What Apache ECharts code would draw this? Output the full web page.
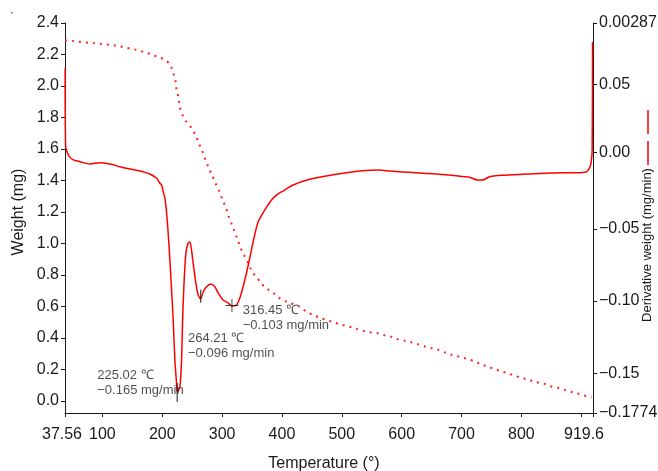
<!DOCTYPE html>
<html>
<head>
<meta charset="utf-8">
<script src="https://cdn.jsdelivr.net/npm/echarts@6/dist/echarts.min.js"></script>
<style>
html,body{margin:0;padding:0;background:#fff;}
#chart{width:658px;height:471px;}
</style>
</head>
<body>
<div id="chart"></div>
<script>
// Derivative weight curve (solid, right axis)
const dtgTemp = [37.8,38.6,41.7,44.7,51.4,62.6,79.3,96,112.6,129.3,146,162.7,179.4,190.6,196.1,198.9,201.6,204.4,207.3,209.9,212.8,215.6,218.3,221.1,223.9,225.02,229.5,232.3,234,236.1,239.5,243.3,246.1,249,251.6,256.2,260,264.21,268.3,274,281.2,287.9,293.4,301.7,310,316.45,324.1,329.6,335.1,340.7,346.3,351.8,360.1,371.3,382.5,393.5,401.8,418.5,446.4,474.2,502,534.8,563.2,579.9,601.6,634.9,663.3,691.2,713.4,726.7,735,746.7,768.4,801.8,841.4,869,891.4,908.1,913.6,916.4,918.2,918.8];
const dtgRate = [0.061,0.0072,0.0024,-0.0001,-0.0024,-0.0036,-0.0052,-0.0043,-0.0052,-0.0071,-0.0087,-0.0100,-0.0121,-0.0151,-0.0185,-0.0197,-0.0244,-0.0287,-0.0391,-0.0529,-0.0716,-0.0923,-0.1131,-0.1407,-0.1567,-0.163,-0.1594,-0.1407,-0.1131,-0.0903,-0.0668,-0.0598,-0.0591,-0.0647,-0.0737,-0.0875,-0.0958,-0.0985,-0.0937,-0.0901,-0.0882,-0.0901,-0.0944,-0.0993,-0.1013,-0.1034,-0.1027,-0.0979,-0.0901,-0.0806,-0.0702,-0.0591,-0.0453,-0.0370,-0.0301,-0.0259,-0.0239,-0.0197,-0.0158,-0.0135,-0.0116,-0.0098,-0.0094,-0.0101,-0.0107,-0.0116,-0.0123,-0.0133,-0.0144,-0.0163,-0.0163,-0.0140,-0.0130,-0.0123,-0.0116,-0.0112,-0.0112,-0.0107,-0.0082,-0.0045,0.0045,0.0792];

// Weight curve (dotted, left axis)
const tgTemp = [37.56,51.4,63.8,76.4,87.6,98.8,111.5,123.8,136,147.7,159.9,169.9,180.6,191.6,202.8,212.8,218.3,222.3,224,227.3,229.5,234,240.6,249.5,256.2,261.7,267.3,272.3,277.3,283.3,289,295,300,306.2,310.7,316.2,321.2,326.2,331.7,337.9,344.6,350.1,358.4,366.8,375.1,386.3,396.3,407.5,429.7,440.9,454.7,465.9,478.6,488.1,500.9,513.1,525.3,536.5,547.7,560.3,571.5,582.7,592,604.9,616.1,627.1,639.9,651.1,662.1,673.3,684.5,696.7,709.5,720,731.7,743.9,755.1,766.2,777.3,790.1,801.3,812.3,824.6,835.7,846.9,860.7,873.1,885.7,896.9,908.1,917];
const tgWeight = [2.29,2.2857,2.2794,2.275,2.271,2.2667,2.2622,2.2559,2.2457,2.2368,2.2267,2.214,2.2032,2.186,2.1695,2.1378,2.0844,2.0298,1.9746,1.9257,1.8635,1.8159,1.7714,1.7302,1.6825,1.6298,1.5822,1.5302,1.4825,1.4317,1.3822,1.3352,1.2825,1.2298,1.1746,1.1219,1.0711,1.0222,0.9651,0.9162,0.8679,0.821,0.7829,0.741,0.713,0.6838,0.6521,0.6305,0.5987,0.567,0.5416,0.5251,0.5098,0.4971,0.4825,0.4717,0.4571,0.4444,0.4362,0.4298,0.4171,0.4083,0.3937,0.3829,0.3727,0.36,0.3448,0.3346,0.3238,0.3067,0.2921,0.2813,0.2667,0.254,0.2349,0.2178,0.2032,0.1886,0.1759,0.1587,0.146,0.1333,0.1206,0.1124,0.0952,0.0844,0.0698,0.0552,0.0444,0.0317,0.022];

// Annotated peaks
const annoTemp = [225.02, 264.21, 316.45];
const annoRate = [-0.165, -0.096, -0.103];

// Axis ticks and labels
const xTickValues = [37.56,100,200,300,400,500,600,700,800,900,919.6];
const xLabelValues = [37.56,100,200,300,400,500,600,700,800,919.6];
const xLabelTexts = ['37.56','100','200','300','400','500','600','700','800','919.6'];
const leftTickValues = [0,0.2,0.4,0.6,0.8,1.0,1.2,1.4,1.6,1.8,2.0,2.2,2.4];
const rightTickValues = [-0.1774,-0.15,-0.10,-0.05,0.003,0.05,0.0923];
const rightTickTexts = ['\u22120.1774','\u22120.15','\u22120.10','\u22120.05','0.00','0.05','0.00287'];

const FONT = "'Liberation Sans', Arial, Helvetica, sans-serif";
const AX = '#1a1a1a';

// styling for annotations (not data)
const annoSymbols = ['path://M0,0h1v1h-1z','path://M0,0h1v1h-1z','path://M0,6h13v1h-13z M6,0h1v13h-1z'];
const annoSizes = [[1.3,19],[1.3,13],[13,13]];
const annoSymOffsets = [[0,-2.5],[0,1],[0,0]];
const annoLabelOffsets = [[-80.6,-9.5],[-13.3,50],[4.3,13]];

const chart = echarts.init(document.getElementById('chart'), null, {renderer:'canvas'});

const annoData = annoTemp.map((t,i)=>({
  value:[t, annoRate[i]],
  symbol: annoSymbols[i],
  symbolSize: annoSizes[i],
  symbolOffset: annoSymOffsets[i],
  label:{offset: annoLabelOffsets[i]}
}));

function axisCommon(){
  return {
    axisLine:{show:true, onZero:false, lineStyle:{color:AX, width:1}},
    axisTick:{show:true, inside:false, length:4, lineStyle:{color:AX, width:1}},
    splitLine:{show:false},
    axisLabel:{color:'#1a1a1a', fontSize:16, fontFamily:FONT}
  };
}

const xa = axisCommon();
const ya0 = axisCommon();
const ya1 = axisCommon();

const option = {
  animation:false,
  backgroundColor:'#fff',
  grid:{left:65, right:65, top:23, bottom:58, containLabel:false, outerBoundsMode:'none'},
  xAxis:Object.assign(xa,{
    type:'value', min:37.56, max:919.6,
    name:'Temperature (\u00b0)', nameLocation:'middle', nameGap:43,
    nameTextStyle:{color:'#1a1a1a', fontSize:16, fontFamily:FONT, padding:[0,10,0,0]},
    axisTick:Object.assign(xa.axisTick,{customValues:xTickValues}),
    axisLabel:Object.assign(xa.axisLabel,{
      customValues:xLabelValues, margin:14,
      formatter:(v)=>{
        const i = xLabelValues.findIndex(x=>Math.abs(x-v)<1e-6);
        const s = i>=0 ? xLabelTexts[i] : '';
        if (i===xLabelValues.length-1) return '{r|'+s+'}';
        if (i===0) return '{l|'+s+'}';
        return s;
      },
      rich:{
        r:{fontSize:16, fontFamily:FONT, color:'#1a1a1a', padding:[0,18,0,0]},
        l:{fontSize:16, fontFamily:FONT, color:'#1a1a1a', padding:[0,6,0,0]}
      }
    })
  }),
  yAxis:[
    Object.assign(ya0,{
      type:'value', position:'left', min:-0.0762, max:2.4,
      axisTick:Object.assign(ya0.axisTick,{customValues:leftTickValues}),
      axisLabel:Object.assign(ya0.axisLabel,{customValues:leftTickValues, margin:6,
        formatter:(v)=>v.toFixed(1)})
    }),
    Object.assign(ya1,{
      type:'value', position:'right', min:-0.1774, max:0.0923,
      axisTick:Object.assign(ya1.axisTick,{customValues:rightTickValues}),
      axisLabel:Object.assign(ya1.axisLabel,{customValues:rightTickValues, margin:6,
        formatter:(v)=>{
          const i = rightTickValues.findIndex(x=>Math.abs(x-v)<1e-6);
          return i>=0 ? rightTickTexts[i] : '';
        }})
    })
  ],
  graphic:[
    {type:'text', x:19, y:212, rotation:Math.PI/2,
      style:{text:'Weight (mg)', fill:'#1a1a1a', font:'16px '+FONT, align:'center', verticalAlign:'middle'}},
    {type:'text', x:647, y:245, rotation:Math.PI/2,
      style:{text:'Derivative weight (mg/min)', fill:'#1a1a1a', font:'13px '+FONT, align:'center', verticalAlign:'middle'}},
    {type:'line', shape:{x1:648, y1:110, x2:648, y2:165},
      style:{stroke:'#ff0000', lineWidth:1.5, lineDash:[24,7]}},
    {type:'rect', shape:{x:11, y:12, width:1.5, height:1.5}, style:{fill:'#777'}}
  ],
  series:[
    {
      name:'Weight', type:'line', yAxisIndex:0,
      data: tgTemp.map((t,i)=>[t, tgWeight[i]]),
      showSymbol:false, smooth:0.3, silent:true,
      lineStyle:{color:'#ff2020', width:2, type:[2,5], cap:'butt'}
    },
    {
      name:'Derivative weight', type:'line', yAxisIndex:1,
      data: dtgTemp.map((t,i)=>[t, dtgRate[i]]),
      showSymbol:false, smooth:0.25, silent:true,
      lineStyle:{color:'#ff0000', width:1.5}
    },
    {
      name:'Peaks', type:'scatter', yAxisIndex:1, silent:true,
      data: annoData,
      itemStyle:{color:'#222'},
      label:{
        show:true, position:'right', distance:0, align:'left', verticalAlign:'middle',
        color:'#1f1f1f', fontSize:13, lineHeight:15, fontFamily:FONT,
        formatter:(p)=>p.value[0].toFixed(2)+' \u2103\n\u2212'+Math.abs(p.value[1]).toFixed(3)+' mg/min'
      },
      z:5
    }
  ]
};
chart.setOption(option);
</script>
</body>
</html>
